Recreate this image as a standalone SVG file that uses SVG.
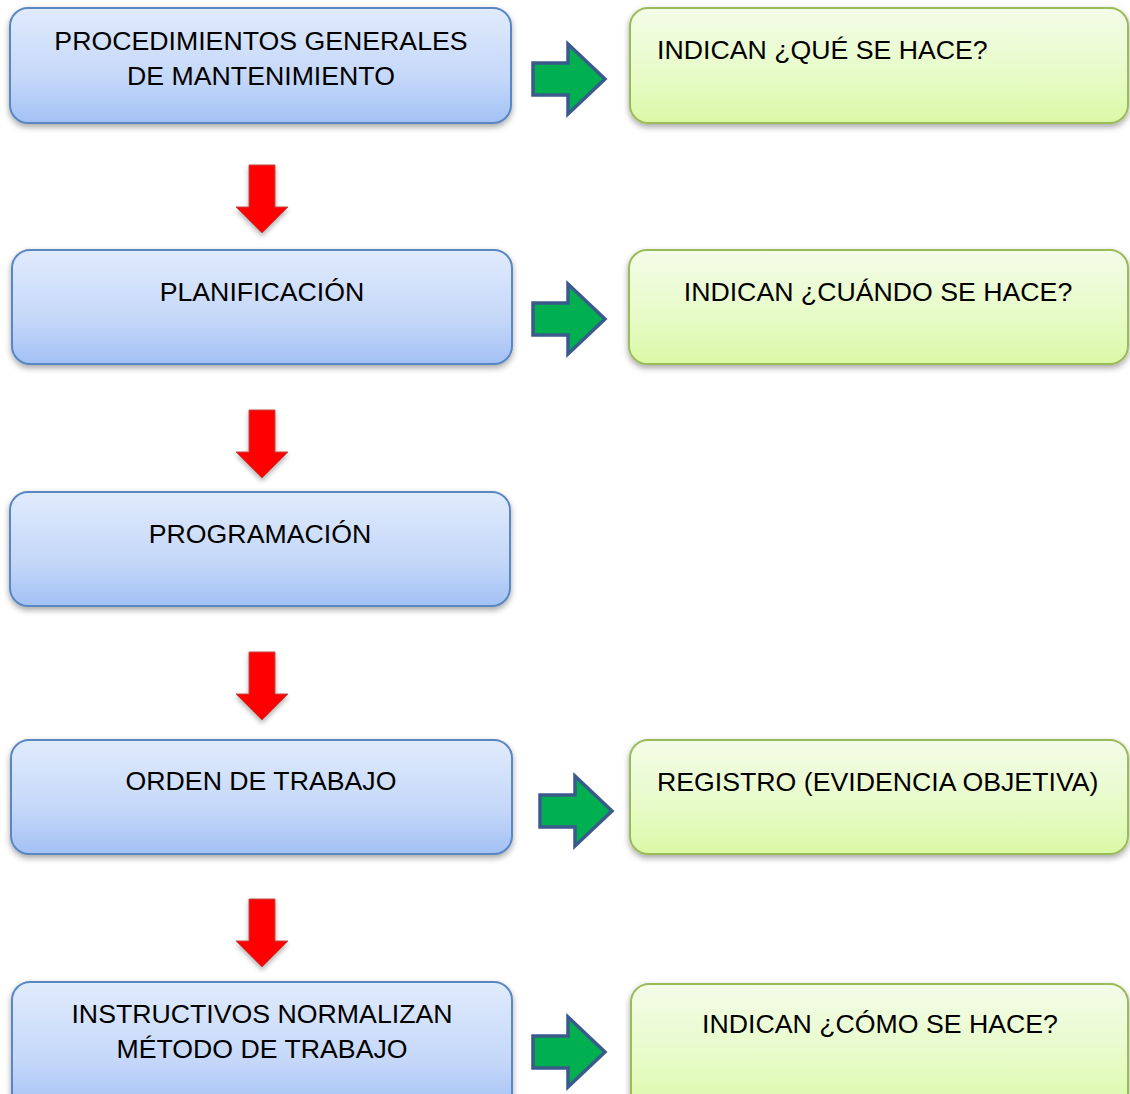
<svg xmlns="http://www.w3.org/2000/svg" width="1130" height="1094" viewBox="0 0 1130 1094">
<defs>
<linearGradient id="gb" x1="0" y1="0" x2="0" y2="1">
<stop offset="0" stop-color="#E0EBFC"/>
<stop offset="0.6" stop-color="#C5D8F9"/>
<stop offset="1" stop-color="#A3C1F5"/>
</linearGradient>
<linearGradient id="gg" x1="0" y1="0" x2="0" y2="1">
<stop offset="0" stop-color="#F3FCE8"/>
<stop offset="0.6" stop-color="#E6FBC6"/>
<stop offset="1" stop-color="#DAF9A6"/>
</linearGradient>
<filter id="sh" x="-10%" y="-20%" width="120%" height="150%">
<feDropShadow dx="0" dy="3" stdDeviation="3" flood-color="#000" flood-opacity="0.35"/>
</filter>
<filter id="sh2" x="-30%" y="-30%" width="160%" height="160%">
<feDropShadow dx="0" dy="3" stdDeviation="2.5" flood-color="#000" flood-opacity="0.3"/>
</filter>
<path id="ra" d="M249,0 H275 V42 H288 L262,68 L236,42 H249 Z"/>
<path id="ga" d="M0,-16 H35 V-35 L72,0 L35,35 V16 H0 Z"/>
</defs>
<style>
.b{fill:url(#gb);stroke:#5A86C2;stroke-width:2;filter:url(#sh)}
.g{fill:url(#gg);stroke:#9BBB59;stroke-width:2;filter:url(#sh)}
.t{font-family:"Liberation Sans",Arial,sans-serif;font-size:26.7px;fill:#000}
.c{text-anchor:middle}
.r{fill:#FF0000;stroke:#C0504D;stroke-width:1;filter:url(#sh2)}
.a{fill:#00B050;stroke:#3B5A8C;stroke-width:3.5;stroke-linejoin:miter}
</style>
<g id="connectors">
<use href="#ra" class="r" transform="translate(0,165)"/>
<use href="#ra" class="r" transform="translate(0,410)"/>
<use href="#ra" class="r" transform="translate(0,652)"/>
<use href="#ra" class="r" transform="translate(0,899)"/>
<use href="#ga" class="a" transform="translate(533,79)"/>
<use href="#ga" class="a" transform="translate(533,319)"/>
<use href="#ga" class="a" transform="translate(540,811)"/>
<use href="#ga" class="a" transform="translate(533,1052)"/>
</g>
<g id="n1"><rect class="b" x="10" y="8" width="501" height="115" rx="18"/>
<text class="t c" x="261" y="50">PROCEDIMIENTOS GENERALES</text>
<text class="t c" x="261" y="85">DE MANTENIMIENTO</text></g>
<g id="n2"><rect class="b" x="12" y="250" width="500" height="114" rx="18"/>
<text class="t c" x="262" y="301">PLANIFICACIÓN</text></g>
<g id="n3"><rect class="b" x="10" y="492" width="500" height="114" rx="18"/>
<text class="t c" x="260" y="543">PROGRAMACIÓN</text></g>
<g id="n4"><rect class="b" x="11" y="740" width="501" height="114" rx="18"/>
<text class="t c" x="261" y="790">ORDEN DE TRABAJO</text></g>
<g id="n5"><rect class="b" x="12" y="982" width="500" height="130" rx="18"/>
<text class="t c" x="262" y="1023">INSTRUCTIVOS NORMALIZAN</text>
<text class="t c" x="262" y="1058">MÉTODO DE TRABAJO</text></g>
<g id="g1"><rect class="g" x="630" y="8" width="498" height="115" rx="18"/>
<text class="t" x="657" y="59">INDICAN ¿QUÉ SE HACE?</text></g>
<g id="g2"><rect class="g" x="629" y="250" width="499" height="114" rx="18"/>
<text class="t c" x="878" y="301">INDICAN ¿CUÁNDO SE HACE?</text></g>
<g id="g4"><rect class="g" x="630" y="740" width="498" height="114" rx="18"/>
<text class="t" x="657" y="791">REGISTRO (EVIDENCIA OBJETIVA)</text></g>
<g id="g5"><rect class="g" x="631" y="984" width="497" height="130" rx="18"/>
<text class="t c" x="880" y="1033">INDICAN ¿CÓMO SE HACE?</text></g>
</svg>
